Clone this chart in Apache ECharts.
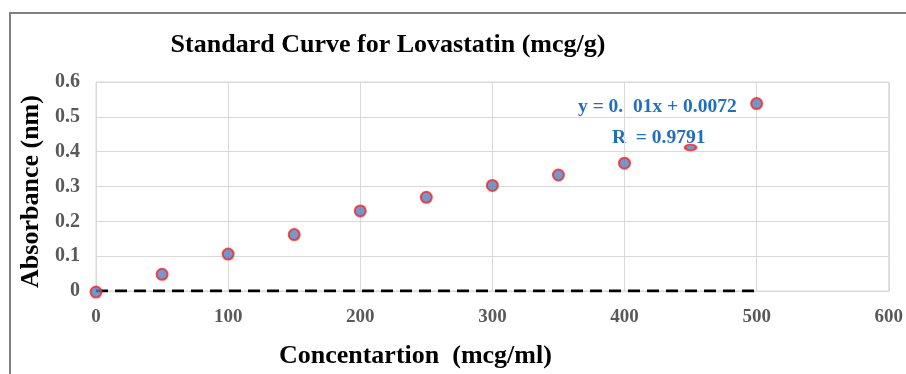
<!DOCTYPE html>
<html><head><meta charset="utf-8">
<script src="https://cdn.jsdelivr.net/npm/echarts@6/dist/echarts.min.js"></script>
<style>html,body{margin:0;padding:0;background:#fff;overflow:hidden}#c{width:906px;height:374px}</style>
</head><body><div id="c"></div>
<script>
const concentrations = [0, 50, 100, 150, 200, 250, 300, 350, 400, 450, 500];
const absorbance = [-0.003, 0.048, 0.106, 0.162, 0.230, 0.269, 0.303, 0.333, 0.367, 0.412, 0.538];
const trendX = [0, 500];
const trendY = [0, 0];
const titleText = 'Standard Curve for Lovastatin (mcg/g)';
const xName = 'Concentartion  (mcg/ml)';
const yName = 'Absorbance (nm)';
const eqLine1 = 'y = 0.  01x + 0.0072';
const eqLine2 = 'R  = 0.9791';

const font = '"Liberation Serif","Times New Roman",serif';
const chart = echarts.init(document.getElementById('c'), null, { width: 906, height: 374 });
const pts = concentrations.map((x, i) => {
  const item = { value: [x, absorbance[i]] };
  if (x === 450) { item.symbolSize = [11, 6]; }
  return item;
});
chart.setOption({
  animation: false,
  graphic: [
    { type: 'rect', shape: { x: 10, y: 13, width: 1200, height: 1000 }, style: { fill: 'none', stroke: '#808080', lineWidth: 2 }, silent: true },
    { type: 'text', left: 578, top: 97, style: { text: eqLine1, font: 'bold 19.5px ' + font, fill: '#1f6fbf' } },
    { type: 'text', left: 612, top: 128, style: { text: eqLine2, font: 'bold 19.5px ' + font, fill: '#1f6fbf' } }
  ],
  title: {
    text: titleText, left: 383, top: 27, textAlign: 'center',
    textStyle: { fontFamily: font, fontWeight: 'bold', fontSize: 26, color: '#000' }
  },
  grid: { left: 96, right: 11, top: 82, bottom: 70, show: true, borderColor: '#d9d9d9', borderWidth: 1 },
  xAxis: {
    type: 'value', min: 0, max: 600, interval: 100,
    name: xName, nameLocation: 'middle', nameGap: 52,
    nameTextStyle: { fontFamily: font, fontWeight: 'bold', fontSize: 26, color: '#000', padding: [0, 154, 0, 0] },
    axisLine: { show: true, lineStyle: { color: '#d9d9d9' } },
    axisTick: { show: false },
    axisLabel: { fontFamily: font, fontWeight: 'bold', fontSize: 19, color: '#595959', margin: 17 },
    splitLine: { show: true, lineStyle: { color: '#d9d9d9' } }
  },
  yAxis: {
    type: 'value', min: 0, max: 0.6, interval: 0.1,
    name: yName, nameLocation: 'middle', nameGap: 42, nameRotate: 90,
    nameTextStyle: { fontFamily: font, fontWeight: 'bold', fontSize: 26, color: '#000', padding: [0, 10, 0, 0] },
    axisLine: { show: false },
    axisTick: { show: false },
    axisLabel: { fontFamily: font, fontWeight: 'bold', fontSize: 20, color: '#595959', margin: 16 },
    splitLine: { show: true, lineStyle: { color: '#d9d9d9' } }
  },
  series: [
    {
      type: 'line', data: trendX.map((x, i) => [x, trendY[i]]), symbol: 'none',
      lineStyle: { color: '#000', width: 3, type: [12, 7] }, z: 2
    },
    {
      type: 'scatter', data: pts, symbol: 'circle', symbolSize: 11, clip: false,
      itemStyle: { color: '#4f7fc0', borderColor: '#ff1f1f', borderWidth: 2 }, z: 3
    }
  ]
});
</script></body></html>
